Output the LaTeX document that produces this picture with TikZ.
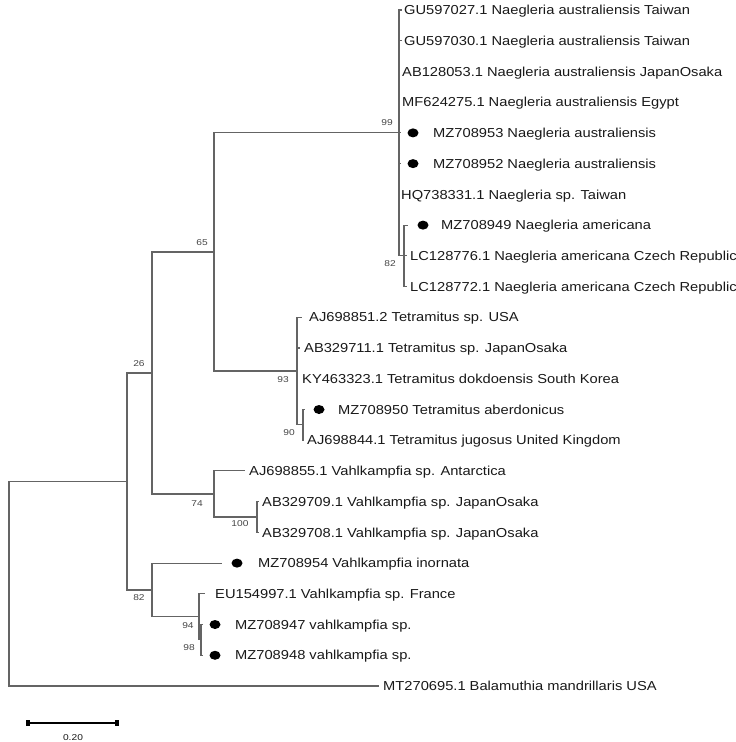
\documentclass[tikz,border=0pt]{standalone}
\usepackage{fontspec}
\setmainfont[FakeStretch=1.13]{Liberation Sans}
\newfontfamily\bsfont[FakeStretch=1.2]{Liberation Sans}
\usetikzlibrary{shapes.geometric}
\definecolor{branch}{RGB}{100,100,100}
\definecolor{txt}{RGB}{25,25,25}
\definecolor{bstxt}{RGB}{70,70,70}
\begin{document}
\begin{tikzpicture}[x=1pt,y=-1pt,
  br/.style={draw=branch,line width=1.1pt},
  leaf/.style={anchor=west,inner sep=0pt,text=txt,font=\fontsize{13}{15}\selectfont,text height=9.3pt,text depth=0pt},
  bs/.style={inner sep=0pt,text=bstxt,font=\bsfont\fontsize{8.5}{10}\selectfont},
  dot/.style={ellipse,fill=black,draw=none,inner sep=0pt,minimum width=11pt,minimum height=9pt},
  barcap/.style={rectangle,fill=black,draw=none,inner sep=0pt,minimum width=4pt,minimum height=6.5pt}
]
\useasboundingbox (0,0) rectangle (736,742);

% internal nodes
\coordinate (root) at (9,583.8);
\coordinate (nA)   at (127,481.5);
\coordinate (n26)  at (152,373);
\coordinate (n65)  at (214,252);
\coordinate (n99)  at (399,132.9);
\coordinate (n82a) at (404,255.8);
\coordinate (n93)  at (297,371);
\coordinate (n90)  at (303,424.8);
\coordinate (n74)  at (214,494);
\coordinate (n100) at (257,517);
\coordinate (n82b) at (152,590);
\coordinate (n94)  at (199,616.9);
\coordinate (n98)  at (201,639.9);

% leaf branch ends
\coordinate (e1)  at (402,10);
\coordinate (e2)  at (402,40.7);
\coordinate (e3)  at (400,71.5);
\coordinate (e4)  at (400,102.2);
\coordinate (e5)  at (401,132.9);
\coordinate (e6)  at (401,163.6);
\coordinate (e7)  at (399.5,194.4);
\coordinate (e8)  at (408,225.1);
\coordinate (e9)  at (407,255.8);
\coordinate (e10) at (407,286.5);
\coordinate (e11) at (302,317.3);
\coordinate (e12) at (300,348);
\coordinate (e13) at (298,378.7);
\coordinate (e14) at (305,409.5);
\coordinate (e15) at (304,440.2);
\coordinate (e16) at (245,470.9);
\coordinate (e17) at (259,501.6);
\coordinate (e18) at (259,532.4);
\coordinate (e19) at (222,563.1);
\coordinate (e20) at (205,593.8);
\coordinate (e21) at (203,624.5);
\coordinate (e22) at (203,655.3);
\coordinate (e23) at (379,686);

% branches
\draw[br] (root) |- (nA);
\draw[br] (root) |- (e23);
\draw[br] (nA) |- (n26);
\draw[br] (nA) |- (n82b);
\draw[br] (n26) |- (n65);
\draw[br] (n26) |- (n74);
\draw[br] (n65) |- (n99);
\draw[br] (n65) |- (n93);
\foreach \e in {e1,e2,e3,e4,e5,e6,e7} {\draw[br] (n99) |- (\e);}
\draw[br] (n99) |- (n82a);
\foreach \e in {e8,e9,e10} {\draw[br] (n82a) |- (\e);}
\foreach \e in {e11,e12,e13} {\draw[br] (n93) |- (\e);}
\draw[br] (n93) |- (n90);
\foreach \e in {e14,e15} {\draw[br] (n90) |- (\e);}
\draw[br] (n74) |- (e16);
\draw[br] (n74) |- (n100);
\foreach \e in {e17,e18} {\draw[br] (n100) |- (\e);}
\draw[br] (n82b) |- (e19);
\draw[br] (n82b) |- (n94);
\draw[br] (n94) |- (e20);
\draw[br] (n94) |- (n98);
\foreach \e in {e21,e22} {\draw[br] (n98) |- (\e);}

% markers
\node[dot] (d5)  at (413,132.9) {};
\node[dot] (d6)  at (413,163.6) {};
\node[dot] (d8)  at (423,225.1) {};
\node[dot] (d14) at (319,409.5) {};
\node[dot] (d19) at (237,563.1) {};
\node[dot] (d21) at (215,624.5) {};
\node[dot] (d22) at (215,655.3) {};

% leaf labels
\node[leaf] (t1)  at (404,10)    {GU597027.1 Naegleria australiensis Taiwan};
\node[leaf] (t2)  at (404,40.7)  {GU597030.1 Naegleria australiensis Taiwan};
\node[leaf] (t3)  at (402,71.5)  {AB128053.1 Naegleria australiensis JapanOsaka};
\node[leaf] (t4)  at (402,102.2) {MF624275.1 Naegleria australiensis Egypt};
\node[leaf] (t5)  at (433,132.9) {MZ708953 Naegleria australiensis};
\node[leaf] (t6)  at (433,163.6) {MZ708952 Naegleria australiensis};
\node[leaf] (t7)  at (401,194.4) {HQ738331.1 Naegleria sp. Taiwan};
\node[leaf] (t8)  at (441,225.1) {MZ708949 Naegleria americana};
\node[leaf] (t9)  at (410,255.8) {LC128776.1 Naegleria americana Czech Republic};
\node[leaf] (t10) at (410,286.5) {LC128772.1 Naegleria americana Czech Republic};
\node[leaf] (t11) at (309,317.3) {AJ698851.2 Tetramitus sp. USA};
\node[leaf] (t12) at (304,348)   {AB329711.1 Tetramitus sp. JapanOsaka};
\node[leaf] (t13) at (302,378.7) {KY463323.1 Tetramitus dokdoensis South Korea};
\node[leaf] (t14) at (338,409.5) {MZ708950 Tetramitus aberdonicus};
\node[leaf] (t15) at (307,440.2) {AJ698844.1 Tetramitus jugosus United Kingdom};
\node[leaf] (t16) at (249,470.9) {AJ698855.1 Vahlkampfia sp. Antarctica};
\node[leaf] (t17) at (262,501.6) {AB329709.1 Vahlkampfia sp. JapanOsaka};
\node[leaf] (t18) at (262,532.4) {AB329708.1 Vahlkampfia sp. JapanOsaka};
\node[leaf] (t19) at (258,563.1) {MZ708954 Vahlkampfia inornata};
\node[leaf] (t20) at (215,593.8) {EU154997.1 Vahlkampfia sp. France};
\node[leaf] (t21) at (235,624.5) {MZ708947 vahlkampfia sp.};
\node[leaf] (t22) at (235,655.3) {MZ708948 vahlkampfia sp.};
\node[leaf] (t23) at (383,686)   {MT270695.1 Balamuthia mandrillaris USA};

% bootstrap values
\node[bs] (b99)  at (387,123) {99};
\node[bs] (b82a) at (390,264) {82};
\node[bs] (b65)  at (202,243) {65};
\node[bs] (b93)  at (283,380) {93};
\node[bs] (b90)  at (289,433) {90};
\node[bs] (b26)  at (139,364) {26};
\node[bs] (b74)  at (197,504) {74};
\node[bs] (b100) at (240,524) {100};
\node[bs] (b82b) at (139,598) {82};
\node[bs] (b94)  at (188,626) {94};
\node[bs] (b98)  at (189,648) {98};

% scale bar
\node[barcap] (sbl) at (28,723) {};
\node[barcap] (sbr) at (117,723) {};
\draw[line width=2.2pt,black] (sbl.center) -- (sbr.center);
\node[bs,text=txt] (sbt) at (73,738) {0.20};
\end{tikzpicture}
\end{document}
